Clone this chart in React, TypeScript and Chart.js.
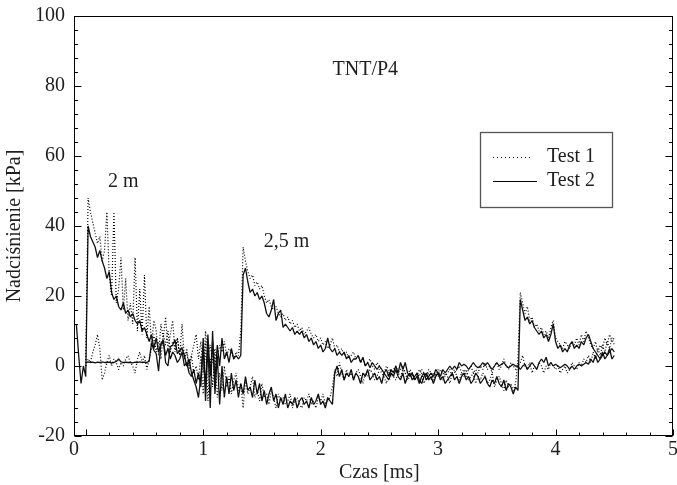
import React, { useEffect, useRef } from 'react';
import { Chart, registerables } from 'chart.js';

Chart.register(...registerables);

// ---- data (time in ms, overpressure in kPa) ----
const TIME_STEP = 0.02;

const X_TICK_VALUES = [-0.1, 1, 2, 3, 4, 5];
const X_TICK_LABELS = ['0', '1', '2', '3', '4', '5'];
const Y_TICK_STEP = 20;

// Test 1, gauge at 2 m (dotted)
const test1_2m_start = 0;
const test1_2m = [
  0, 48, 44, 41, 38, 35, 37, 30, 33, 44,
  26, 20, 44, 18, 22, 31, 16, 25, 13, 18,
  12, 31, 10, 22, 9, 26, 8, 17, 6, 13,
  10, 3, 12, 8, 14, 5, 9, 13, 4, 8,
  3, 12, 2, 5, -1, 3, -2, 0, -4, 3,
  -8, 7, -10, 2, -6, 4, -9, -2, -7, 0,
  -6, -3, -8, -4, -2, -7, -5, -12, -4, -8,
  -6, -3, -9, -7, -10, -5, -9, -8, -11, -7,
  -9, -12, -8, -10, -9, -11, -10, -8, -12, -10,
  -9, -11, -12, -9, -10, -8, -11, -10, -12, -9,
  -10, -8, -11, -10, -9, -6, -1, -3, 1, -2,
  -4, -1, -3, -2, -4, -2, -1, -3, -5, -2,
  -3, -1, -2, -4, -3, -1, -2, -3, -5, -2,
  -1, -3, -4, -2, -3, -1, -2, -4, -3, -2,
  -4, -3, -1, -2, -5, -3, -2, -4, -2, -3,
  -1, -3, -4, -2, -3, -5, -2, -1, -3, -4,
  -2, -3, -1, -4, -3, -2, -5, -3, -4, -2,
  -3, -5, -4, -2, -6, -4, -3, -5, -7, -4,
  -6, -5, -7, -5, 2, 21, 18, 15, 17, 13,
  14, 11, 12, 10, 11, 9, 10, 8, 11, 13,
  8, 7, 6, 5, 7, 6, 5, 7, 6, 8,
  6, 9, 7, 10, 8, 6, 5, 7, 4, 6,
  5, 8, 6, 9, 7, 8,
];

// Test 1, gauge at 2,5 m (dotted)
const test1_25m_start = 0;
const test1_25m = [
  0, 2, 1, 4, 6, 9, 5, -4, -2, 1,
  3, 0, 2, 1, -1, 1, 0, 2, 3, 1,
  0, -2, 2, 4, 1, 3, -1, 2, 5, 9,
  4, 7, 2, 9, 6, 10, 4, 7, 5, 8,
  3, 6, 2, 4, 0, 3, 6, 9, 2, 7,
  -2, 10, 3, 6, 1, 5, 2, 6, 4, 7,
  3, 5, 4, 2, 4, 3, 10, 34, 30, 27,
  25, 26, 23, 24, 22, 23, 20, 18, 19, 17,
  16, 17, 15, 14, 15, 13, 14, 12, 13, 11,
  12, 10, 11, 9, 10, 11, 9, 8, 9, 7,
  8, 6, 7, 5, 6, 8, 5, 6, 4, 5,
  3, 4, 2, 3, 4, 2, 3, 1, 2, 0,
  1, 2, 0, -1, 1, 0, -1, -2, 0, -1,
  -3, -1, 0, -2, -1, 0, -2, -3, -1, -2,
  -4, -2, -3, -1, -2, -3, -1, -2, -4, -2,
  -3, -1, -2, -3, -2, -1, -3, -2, -1, 0,
  -2, -1, -3, -1, 0, -2, -1, -2, 0, -1,
  1, -1, 0, -2, 0, 1, -1, 0, 2, 0,
  -1, 1, 0, -1, 0, 1, 3, 0, -1, 1,
  -2, 0, -1, 1, 0, -2, 0, -1, 1, 0,
  -1, 0, -2, -1, 0, -2, -1, 1, 0, -1,
  1, 0, 2, 1, 3, 1, 4, 2, 5, 3,
  6, 4, 7, 5, 8, 6,
];

// Test 2, gauge at 2 m (solid)
const test2_2m_start = -0.08;
const test2_2m = [
  12, 3, -5, 0, -3,
  40, 37, 35.5, 34, 31, 33, 30, 28, 25, 27,
  21, 19, 20, 17, 16, 18, 15, 16, 14, 15,
  13, 12, 13, 10, 11, 9, 7, 9, 5, 8,
  4, 6, 7, 3, 5, 2, 4, 3, 1, 2,
  4, 0, 1, -2, -3, -1, -5, -2, -6, 8,
  -10, 6, -12, 10, -8, 3, -11, 0, -9, -3,
  -8, -2, -7, -4, -9, -5, -8, -3, -7, -6,
  -9, -4, -8, -5, -10, -7, -11, -8, -6, -10,
  -8, -12, -9, -11, -8, -12, -10, -11, -9, -12,
  -10, -9, -11, -10, -12, -9, -11, -10, -8, -11,
  -10, -12, -9, -10, -11, -2, 0, -3, -1, -4,
  -2, -3, -1, -4, -2, -3, -5, -2, -3, -1,
  -4, -3, -2, -4, -3, -5, -2, -3, -4, -2,
  -3, -1, -3, -4, -2, -5, -3, -2, -4, -3,
  -2, -4, -5, -3, -2, -4, -3, -5, -3, -2,
  -4, -3, -5, -4, -3, -2, -4, -3, -5, -3,
  -2, -4, -3, -5, -4, -2, -3, -5, -4, -3,
  -5, -6, -4, -5, -3, -5, -6, -4, -7, -5,
  -6, -8, -6, -7, 19, 16, 13, 14, 12, 13,
  11, 10, 9, 10, 8, 9, 7, 9, 12, 7,
  5, 6, 4, 5, 4, 6, 7, 5, 6, 5,
  7, 6, 8, 9, 7, 5, 4, 3, 2, 3,
  4, 3, 4, 5, 4,
];

// Test 2, gauge at 2,5 m (solid)
const test2_25m_start = 0;
const test2_25m = [
  1, 1.2, 1, 1.1, 0.9, 1.1, 1, 1.2, 1, 1,
  1.1, 0.9, 1, 1.3, 2, 1.2, 1, 1.1, 1, 1,
  0.9, 1.1, 1, 1.2, 1, 1.1, 1, 1.4, 6.6, 4.5,
  3.5, -1.5, 6.5, 7.5, 1, 0, 5.5, 6, 7.5, 3.5,
  4.5, 5, 3, 0, 2, -2, -4, -6, -9, -3,
  5, -6, 9, -3, 7, -4, 6, 0, 8, 2,
  4, 1, 5, 2, 3, 2, 3, 26, 28, 24,
  21, 22, 20, 21, 19, 20, 18, 15, 14, 16,
  19, 13, 15, 16, 11, 12, 11, 10, 11, 9,
  10, 9, 10, 8, 9, 7, 8, 6, 7, 5,
  6, 4, 5, 8, 5, 4, 5, 3, 4, 3,
  4, 2, 3, 1, 2, 2, 3, 1, 2.5, 0,
  1, -0.5, 1, 0, -1, 0, -1, -2, -1, -3,
  -1, -2, 0, -2, 1, -1, 1, -2, -3, -2,
  -4, -3, -5, -3, -2, -4, -3, -2, -3, -1,
  -2, -3, -1, -2, -1, 0, -1, 0, -1, 1,
  0, 0.5, 0, -1, 0, 1, 0, -0.5, 0, 1,
  0, 1, 0, -1, 0, 1, 0, 0.5, 1, 0,
  -0.5, 0, 0.5, 0, 0, -1, 0, 0.5, -1, 0,
  1, 0, -1, 1, 2, 1, 2.5, 0, 1, 0,
  0.5, 0, -0.5, 0, 0.5, 0, -1, 0, -1, 0,
  0.5, 0, 0.5, 1, 0.5, 2, 1, 3, 1, 2,
  4, 2, 3, 5, 2, 3,
];

const toPoints = (start: number, values: number[]) =>
  values.map((v, i) => ({ x: +(start + i * TIME_STEP).toFixed(3), y: v }));

const FONT_FAMILY = '"Liberation Serif", "Times New Roman", serif';
const TEXT_COLOR = '#1e1e1e';

const ANNOTATIONS = [
  { text: 'TNT/P4', x: 2.38, y: 84.6 },
  { text: '2 m', x: 0.32, y: 52.6 },
  { text: '2,5 m', x: 1.71, y: 35.4 },
];

const framePlugin = {
  id: 'frameTicks',
  afterDatasetsDraw(chart: any) {
    const { ctx, chartArea: a, scales } = chart;
    const xs = scales.x;
    const ys = scales.y;
    const L = Math.round(a.left) + 0.5;
    const R = Math.round(a.right) - 0.5;
    const T = Math.round(a.top) + 0.5;
    const B = Math.round(a.bottom) - 0.5;
    ctx.save();
    ctx.strokeStyle = '#000';
    ctx.lineWidth = 1;
    ctx.setLineDash([]);
    ctx.strokeRect(L, T, R - L, B - T);
    ctx.beginPath();
    for (let i = 0; i <= 30; i++) {
      const v = -20 + i * 4;
      const yy = Math.round(ys.getPixelForValue(v)) + 0.5;
      const len = v % 20 === 0 ? 7 : 3.5;
      ctx.moveTo(L, yy);
      ctx.lineTo(L + len, yy);
      ctx.moveTo(R, yy);
      ctx.lineTo(R - len, yy);
    }
    for (let i = 0; i <= 25; i++) {
      const v = i * 0.2;
      const xx = Math.round(xs.getPixelForValue(v)) + 0.5;
      const len = i % 5 === 0 ? 6 : 3;
      ctx.moveTo(xx, B);
      ctx.lineTo(xx, B - len);
    }
    ctx.stroke();

    // annotations
    ctx.fillStyle = TEXT_COLOR;
    ctx.font = `20px ${FONT_FAMILY}`;
    ctx.textAlign = 'center';
    ctx.textBaseline = 'middle';
    for (const an of ANNOTATIONS) {
      ctx.fillText(an.text, xs.getPixelForValue(an.x), ys.getPixelForValue(an.y));
    }

    // x axis title (centred over 0..5)
    ctx.fillText('Czas [ms]', (xs.getPixelForValue(0) + xs.getPixelForValue(5)) / 2, a.bottom + 37);

    // legend
    const lx = a.left + 406;
    const ly = a.top + 116;
    ctx.strokeStyle = '#555';
    ctx.lineWidth = 1.3;
    ctx.strokeRect(lx + 0.5, ly + 0.5, 132, 75);
    ctx.strokeStyle = '#000';
    ctx.lineWidth = 1;
    ctx.setLineDash([1, 3]);
    ctx.beginPath();
    ctx.moveTo(lx + 13, ly + 25.5);
    ctx.lineTo(lx + 52, ly + 25.5);
    ctx.stroke();
    ctx.setLineDash([]);
    ctx.beginPath();
    ctx.moveTo(lx + 13, ly + 49.5);
    ctx.lineTo(lx + 57, ly + 49.5);
    ctx.stroke();
    ctx.textAlign = 'left';
    ctx.fillText('Test 1', lx + 67, ly + 25);
    ctx.fillText('Test 2', lx + 67, ly + 49);
    ctx.restore();
  },
};

export default function App() {
  const canvasRef = useRef<HTMLCanvasElement | null>(null);

  useEffect(() => {
    if (!canvasRef.current) return;
    const dotted = {
      borderColor: '#000',
      borderWidth: 1.2,
      borderDash: [1, 2],
      pointRadius: 0,
      tension: 0,
      borderJoinStyle: 'bevel' as const,
    };
    const solid = {
      borderColor: '#111',
      borderWidth: 1.3,
      pointRadius: 0,
      tension: 0,
      borderJoinStyle: 'bevel' as const,
    };
    const font = { family: FONT_FAMILY, size: 20 };
    const chart = new Chart(canvasRef.current, {
      type: 'line',
      data: {
        datasets: [
          { label: 'Test 1', data: toPoints(test1_2m_start, test1_2m), ...dotted },
          { label: 'Test 1 (2,5 m)', data: toPoints(test1_25m_start, test1_25m), ...dotted },
          { label: 'Test 2', data: toPoints(test2_2m_start, test2_2m), ...solid },
          { label: 'Test 2 (2,5 m)', data: toPoints(test2_25m_start, test2_25m), ...solid },
        ],
      },
      options: {
        animation: false,
        responsive: false,
        devicePixelRatio: 1,
        parsing: true,
        layout: { padding: { top: 16, right: 4, left: 0, bottom: 0 } },
        plugins: { legend: { display: false }, tooltip: { enabled: false } },
        scales: {
          x: {
            type: 'linear',
            min: -0.1,
            max: 5,
            grid: { display: false, drawTicks: false },
            border: { display: false },
            afterBuildTicks: (axis: any) => {
              axis.ticks = X_TICK_VALUES.map((v) => ({ value: v }));
            },
            ticks: {
              padding: 2,
              color: TEXT_COLOR,
              font,
              maxRotation: 0,
              autoSkip: false,
              callback: (_v: any, i: number) => X_TICK_LABELS[i],
            },
            afterFit: (axis: any) => {
              axis.height = 49;
              axis.paddingLeft = 0;
              axis.paddingRight = 0;
            },
          },
          y: {
            type: 'linear',
            min: -20,
            max: 100,
            grid: { display: false, drawTicks: false },
            border: { display: false },
            ticks: { stepSize: Y_TICK_STEP, padding: 9, color: TEXT_COLOR, font },
            title: {
              display: true,
              text: 'Nadciśnienie [kPa]',
              color: TEXT_COLOR,
              font,
              padding: { top: 3, bottom: 0 },
            },
            afterFit: (axis: any) => {
              axis.width = 74;
              axis.paddingTop = 0;
              axis.paddingBottom = 0;
            },
          },
        },
      },
      plugins: [framePlugin],
    });
    return () => chart.destroy();
  }, []);

  return (
    <div style={{ position: 'fixed', left: 0, top: 0, width: 677, height: 485, background: '#fff' }}>
      <canvas ref={canvasRef} width={677} height={485} />
    </div>
  );
}
